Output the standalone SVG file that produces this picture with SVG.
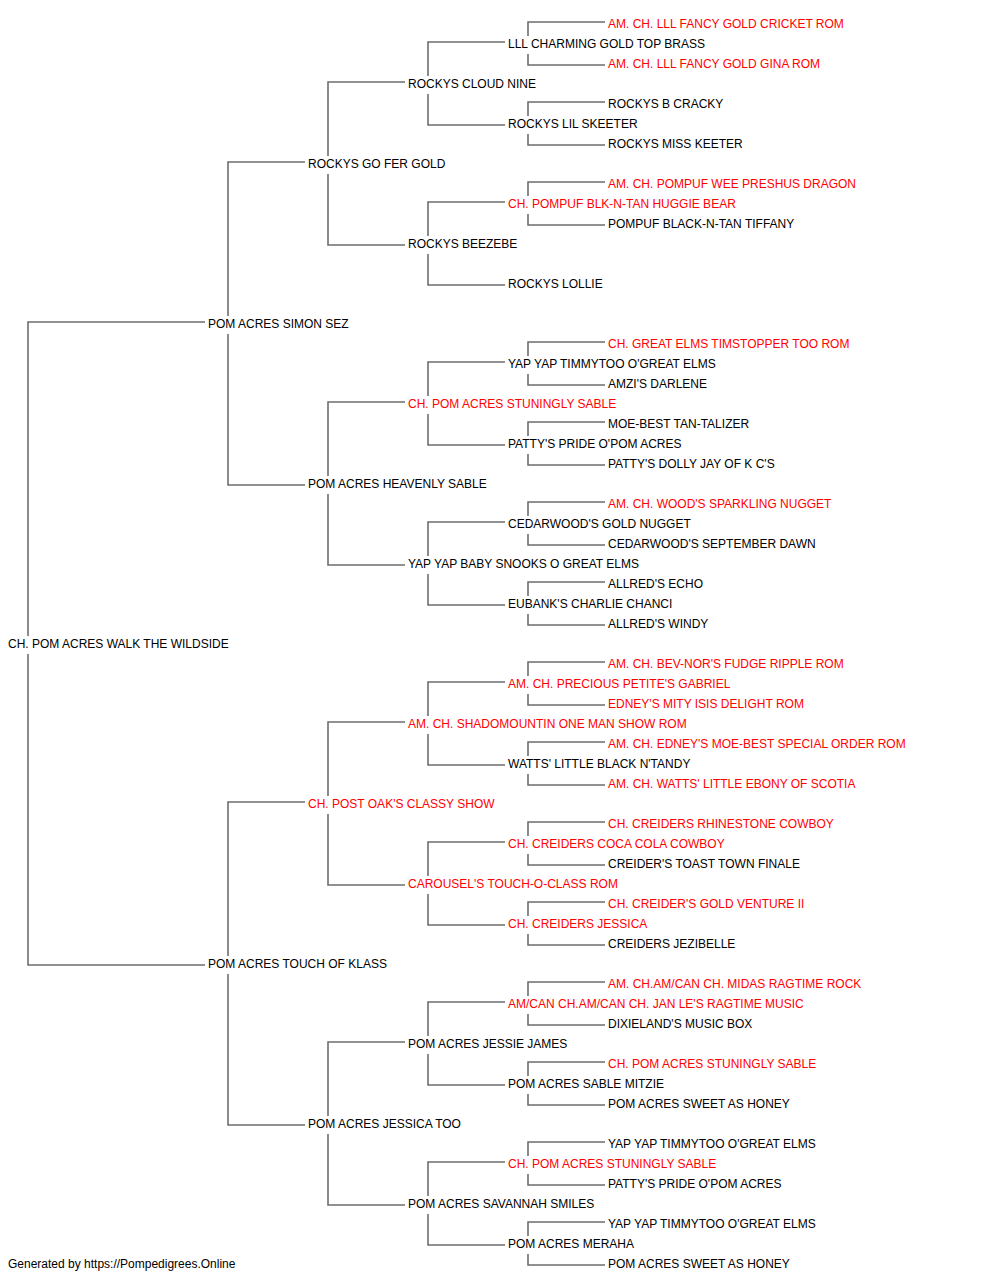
<svg xmlns="http://www.w3.org/2000/svg" width="1000" height="1280" viewBox="0 0 1000 1280">
<style>
text{font-family:"Liberation Sans",Arial,sans-serif;font-size:12px;fill:#000}
text.ch{fill:#ff0000}
#connectors path{fill:none;stroke:#6e6e6e;stroke-width:1.6}
</style>
<rect width="1000" height="1280" fill="#fff"/>
<g id="connectors">
<path d="M205,322H28V636M28,654V965H205"/>
<path d="M305,162H228V316M228,334V485H305"/>
<path d="M305,802H228V956M228,974V1125H305"/>
<path d="M405,82H328V156M328,174V245H405"/>
<path d="M405,402H328V476M328,494V565H405"/>
<path d="M405,722H328V796M328,814V885H405"/>
<path d="M405,1042H328V1116M328,1134V1205H405"/>
<path d="M505,42H428V76M428,94V125H505"/>
<path d="M505,202H428V236M428,254V285H505"/>
<path d="M505,362H428V396M428,414V445H505"/>
<path d="M505,522H428V556M428,574V605H505"/>
<path d="M505,682H428V716M428,734V765H505"/>
<path d="M505,842H428V876M428,894V925H505"/>
<path d="M505,1002H428V1036M428,1054V1085H505"/>
<path d="M505,1162H428V1196M428,1214V1245H505"/>
<path d="M605,22H528V36M528,54V65H605"/>
<path d="M605,102H528V116M528,134V145H605"/>
<path d="M605,182H528V196M528,214V225H605"/>
<path d="M605,342H528V356M528,374V385H605"/>
<path d="M605,422H528V436M528,454V465H605"/>
<path d="M605,502H528V516M528,534V545H605"/>
<path d="M605,582H528V596M528,614V625H605"/>
<path d="M605,662H528V676M528,694V705H605"/>
<path d="M605,742H528V756M528,774V785H605"/>
<path d="M605,822H528V836M528,854V865H605"/>
<path d="M605,902H528V916M528,934V945H605"/>
<path d="M605,982H528V996M528,1014V1025H605"/>
<path d="M605,1062H528V1076M528,1094V1105H605"/>
<path d="M605,1142H528V1156M528,1174V1185H605"/>
<path d="M605,1222H528V1236M528,1254V1265H605"/>
</g>
<g id="n0"><text x="8" y="648">CH. POM ACRES WALK THE WILDSIDE</text></g>
<g id="n1a"><text x="208" y="328">POM ACRES SIMON SEZ</text></g>
<g id="n1b"><text x="208" y="968">POM ACRES TOUCH OF KLASS</text></g>
<g id="n2a"><text x="308" y="168">ROCKYS GO FER GOLD</text></g>
<g id="n2b"><text x="308" y="488">POM ACRES HEAVENLY SABLE</text></g>
<g id="n2c"><text class="ch" x="308" y="808">CH. POST OAK'S CLASSY SHOW</text></g>
<g id="n2d"><text x="308" y="1128">POM ACRES JESSICA TOO</text></g>
<g id="n3a"><text x="408" y="88">ROCKYS CLOUD NINE</text></g>
<g id="n3b"><text x="408" y="248">ROCKYS BEEZEBE</text></g>
<g id="n3c"><text class="ch" x="408" y="408">CH. POM ACRES STUNINGLY SABLE</text></g>
<g id="n3d"><text x="408" y="568">YAP YAP BABY SNOOKS O GREAT ELMS</text></g>
<g id="n3e"><text class="ch" x="408" y="728">AM. CH. SHADOMOUNTIN ONE MAN SHOW ROM</text></g>
<g id="n3f"><text class="ch" x="408" y="888">CAROUSEL'S TOUCH-O-CLASS ROM</text></g>
<g id="n3g"><text x="408" y="1048">POM ACRES JESSIE JAMES</text></g>
<g id="n3h"><text x="408" y="1208">POM ACRES SAVANNAH SMILES</text></g>
<g id="n4a"><text x="508" y="48">LLL CHARMING GOLD TOP BRASS</text></g>
<g id="n4b"><text x="508" y="128">ROCKYS LIL SKEETER</text></g>
<g id="n4c"><text class="ch" x="508" y="208">CH. POMPUF BLK-N-TAN HUGGIE BEAR</text></g>
<g id="n4d"><text x="508" y="288">ROCKYS LOLLIE</text></g>
<g id="n4e"><text x="508" y="368">YAP YAP TIMMYTOO O'GREAT ELMS</text></g>
<g id="n4f"><text x="508" y="448">PATTY'S PRIDE O'POM ACRES</text></g>
<g id="n4g"><text x="508" y="528">CEDARWOOD'S GOLD NUGGET</text></g>
<g id="n4h"><text x="508" y="608">EUBANK'S CHARLIE CHANCI</text></g>
<g id="n4i"><text class="ch" x="508" y="688">AM. CH. PRECIOUS PETITE'S GABRIEL</text></g>
<g id="n4j"><text x="508" y="768">WATTS' LITTLE BLACK N'TANDY</text></g>
<g id="n4k"><text class="ch" x="508" y="848">CH. CREIDERS COCA COLA COWBOY</text></g>
<g id="n4l"><text class="ch" x="508" y="928">CH. CREIDERS JESSICA</text></g>
<g id="n4m"><text class="ch" x="508" y="1008">AM/CAN CH.AM/CAN CH. JAN LE'S RAGTIME MUSIC</text></g>
<g id="n4n"><text x="508" y="1088">POM ACRES SABLE MITZIE</text></g>
<g id="n4o"><text class="ch" x="508" y="1168">CH. POM ACRES STUNINGLY SABLE</text></g>
<g id="n4p"><text x="508" y="1248">POM ACRES MERAHA</text></g>
<g id="n5-0"><text class="ch" x="608" y="28">AM. CH. LLL FANCY GOLD CRICKET ROM</text></g>
<g id="n5-1"><text class="ch" x="608" y="68">AM. CH. LLL FANCY GOLD GINA ROM</text></g>
<g id="n5-2"><text x="608" y="108">ROCKYS B CRACKY</text></g>
<g id="n5-3"><text x="608" y="148">ROCKYS MISS KEETER</text></g>
<g id="n5-4"><text class="ch" x="608" y="188">AM. CH. POMPUF WEE PRESHUS DRAGON</text></g>
<g id="n5-5"><text x="608" y="228">POMPUF BLACK-N-TAN TIFFANY</text></g>
<g id="n5-8"><text class="ch" x="608" y="348">CH. GREAT ELMS TIMSTOPPER TOO ROM</text></g>
<g id="n5-9"><text x="608" y="388">AMZI'S DARLENE</text></g>
<g id="n5-10"><text x="608" y="428">MOE-BEST TAN-TALIZER</text></g>
<g id="n5-11"><text x="608" y="468">PATTY'S DOLLY JAY OF K C'S</text></g>
<g id="n5-12"><text class="ch" x="608" y="508">AM. CH. WOOD'S SPARKLING NUGGET</text></g>
<g id="n5-13"><text x="608" y="548">CEDARWOOD'S SEPTEMBER DAWN</text></g>
<g id="n5-14"><text x="608" y="588">ALLRED'S ECHO</text></g>
<g id="n5-15"><text x="608" y="628">ALLRED'S WINDY</text></g>
<g id="n5-16"><text class="ch" x="608" y="668">AM. CH. BEV-NOR'S FUDGE RIPPLE ROM</text></g>
<g id="n5-17"><text class="ch" x="608" y="708">EDNEY'S MITY ISIS DELIGHT ROM</text></g>
<g id="n5-18"><text class="ch" x="608" y="748">AM. CH. EDNEY'S MOE-BEST SPECIAL ORDER ROM</text></g>
<g id="n5-19"><text class="ch" x="608" y="788">AM. CH. WATTS' LITTLE EBONY OF SCOTIA</text></g>
<g id="n5-20"><text class="ch" x="608" y="828">CH. CREIDERS RHINESTONE COWBOY</text></g>
<g id="n5-21"><text x="608" y="868">CREIDER'S TOAST TOWN FINALE</text></g>
<g id="n5-22"><text class="ch" x="608" y="908">CH. CREIDER'S GOLD VENTURE II</text></g>
<g id="n5-23"><text x="608" y="948">CREIDERS JEZIBELLE</text></g>
<g id="n5-24"><text class="ch" x="608" y="988">AM. CH.AM/CAN CH. MIDAS RAGTIME ROCK</text></g>
<g id="n5-25"><text x="608" y="1028">DIXIELAND'S MUSIC BOX</text></g>
<g id="n5-26"><text class="ch" x="608" y="1068">CH. POM ACRES STUNINGLY SABLE</text></g>
<g id="n5-27"><text x="608" y="1108">POM ACRES SWEET AS HONEY</text></g>
<g id="n5-28"><text x="608" y="1148">YAP YAP TIMMYTOO O'GREAT ELMS</text></g>
<g id="n5-29"><text x="608" y="1188">PATTY'S PRIDE O'POM ACRES</text></g>
<g id="n5-30"><text x="608" y="1228">YAP YAP TIMMYTOO O'GREAT ELMS</text></g>
<g id="n5-31"><text x="608" y="1268">POM ACRES SWEET AS HONEY</text></g>
<text x="8" y="1268">Generated by https://Pompedigrees.Online</text>
</svg>
